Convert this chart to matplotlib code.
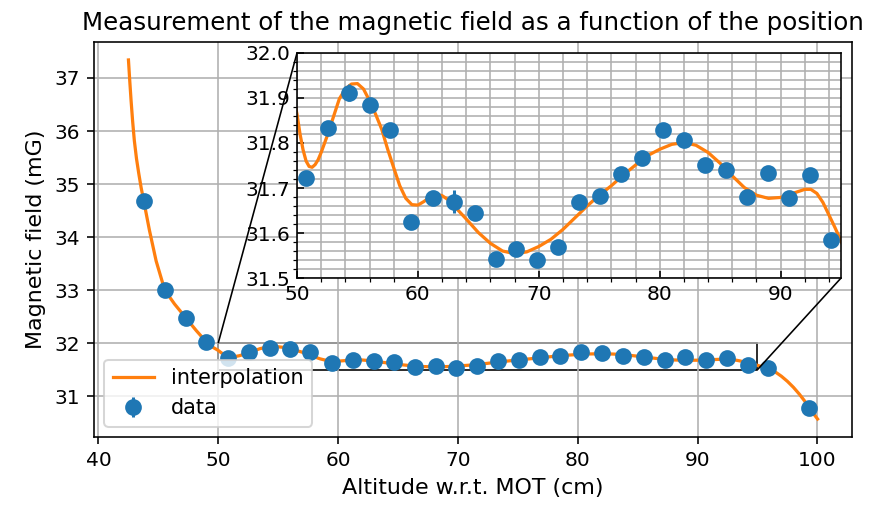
import matplotlib
matplotlib.use("Agg")
import matplotlib.pyplot as plt
from matplotlib.ticker import MultipleLocator
from mpl_toolkits.axes_grid1.inset_locator import mark_inset

# measured data
altitude = [43.78, 45.54, 47.29, 49.02, 50.78, 52.53, 54.29, 56.01, 57.70, 59.46,
            61.22, 62.97, 64.70, 66.45, 68.14, 69.86, 71.59, 73.34, 75.10, 76.82,
            78.55, 80.30, 82.03, 83.75, 85.51, 87.26, 88.99, 90.71, 92.43, 94.19,
            95.92, 99.34]
field = [34.686, 33.00, 32.48, 32.02, 31.723, 31.833, 31.912, 31.884, 31.829, 31.625,
         31.677, 31.670, 31.645, 31.542, 31.564, 31.539, 31.568, 31.670, 31.682, 31.732,
         31.766, 31.829, 31.807, 31.751, 31.740, 31.679, 31.734, 31.677, 31.728, 31.585,
         31.525, 30.775]
field_err = [0.006, 0.006, 0.006, 0.006, 0.012, 0.015, 0.018, 0.006, 0.006, 0.006,
             0.006, 0.025, 0.006, 0.006, 0.006, 0.006, 0.006, 0.006, 0.006, 0.006,
             0.006, 0.006, 0.006, 0.006, 0.006, 0.006, 0.006, 0.006, 0.006, 0.006,
             0.006, 0.006]

# interpolation curve
curve_x = [42.51, 42.62, 42.73, 42.86, 43.0, 43.18, 43.37, 43.57, 43.78, 44.26,
           44.82, 45.54, 46.35, 47.29, 48.16, 49.02, 49.5, 50.0, 50.25, 50.5,
           50.75, 51.0, 51.25, 51.5, 51.75, 52.0, 52.5, 53.0, 53.5, 54.0,
           54.5, 55.0, 55.5, 56.0, 56.5, 57.0, 57.5, 58.0, 58.5, 59.0,
           59.5, 60.0, 60.5, 61.0, 61.5, 62.0, 62.5, 63.0, 64.0, 65.0,
           66.0, 67.0, 68.0, 69.0, 70.0, 71.0, 72.0, 73.0, 74.0, 75.0,
           76.0, 77.0, 78.0, 79.0, 80.0, 81.0, 82.0, 83.0, 84.0, 85.0,
           86.0, 87.0, 88.0, 89.0, 90.0, 91.0, 92.0, 92.5, 93.0, 93.5,
           94.0, 94.5, 95.0, 95.92, 96.5, 97.0, 97.5, 98.0, 98.5, 99.0,
           99.34, 99.7, 100.02]
curve_y = [37.34, 36.94, 36.57, 36.18, 35.82, 35.48, 35.20, 34.93, 34.69, 34.13,
           33.55, 33.00, 32.74, 32.48, 32.24, 32.02, 31.93, 31.864, 31.820, 31.785,
           31.760, 31.748, 31.746, 31.752, 31.763, 31.779, 31.816, 31.857, 31.898, 31.920,
           31.931, 31.932, 31.920, 31.894, 31.864, 31.831, 31.786, 31.745, 31.705, 31.677,
           31.663, 31.662, 31.670, 31.680, 31.686, 31.683, 31.674, 31.660, 31.631, 31.601,
           31.577, 31.560, 31.554, 31.558, 31.570, 31.586, 31.608, 31.634, 31.660, 31.684,
           31.705, 31.729, 31.751, 31.772, 31.786, 31.797, 31.801, 31.795, 31.779, 31.755,
           31.727, 31.701, 31.684, 31.677, 31.679, 31.688, 31.697, 31.697, 31.688, 31.668,
           31.640, 31.612, 31.582, 31.525, 31.456, 31.377, 31.281, 31.169, 31.039, 30.892,
           30.775, 30.665, 30.57]

inset_xlim = (50, 95)
inset_ylim = (31.5, 32.0)

DPI = 145
fig = plt.figure(figsize=(872 / DPI, 518 / DPI), dpi=DPI)
ax = fig.add_axes([0.1078, 0.1564, 0.8693, 0.7625])

ax.errorbar(altitude, field, yerr=field_err, fmt='o', color='C0', markersize=7.3,
            label='data', zorder=3)
ax.plot(curve_x, curve_y, '-', color='C1', lw=1.6, label='interpolation', zorder=2)
ax.grid(True, color='#b0b0b0', lw=0.8)
ax.set_title('Measurement of the magnetic field as a function of the position', fontsize=12.2)
ax.set_xlabel('Altitude w.r.t. MOT (cm)', fontsize=11)
ax.set_ylabel('Magnetic field (mG)', fontsize=11)
ax.tick_params(labelsize=10)
ax.legend(loc='lower left', fontsize=10.3)

axins = fig.add_axes([0.3406, 0.4633, 0.6239, 0.4344])
axins.errorbar(altitude, field, yerr=field_err, fmt='o', color='C0', markersize=7.3, zorder=3)
axins.plot(curve_x, curve_y, '-', color='C1', lw=1.6, zorder=2)
axins.set_xlim(*inset_xlim)
axins.set_ylim(*inset_ylim)
axins.xaxis.set_major_locator(MultipleLocator(10))
axins.xaxis.set_minor_locator(MultipleLocator(2))
axins.yaxis.set_major_locator(MultipleLocator(0.1))
axins.yaxis.set_minor_locator(MultipleLocator(0.02))
axins.grid(True, which='both', color='#b0b0b0', lw=0.8)
axins.tick_params(which='major', direction='in', labelsize=10)
axins.tick_params(which='minor', direction='out')
axins.set_yticks([31.5, 31.6, 31.7, 31.8, 31.9, 32.0])
axins.set_yticklabels(['31.5', '31.6', '31.7', '31.8', '31.9', '32.0'])

mark_inset(ax, axins, loc1=2, loc2=4, fc='none', ec='black', lw=0.8)

fig.savefig('out.png', dpi=DPI)
